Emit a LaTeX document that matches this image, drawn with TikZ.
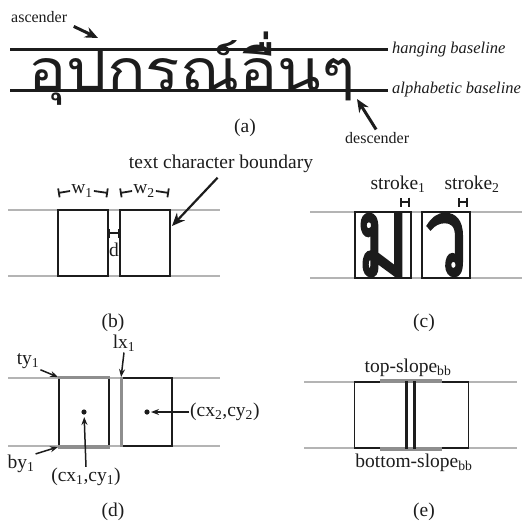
\documentclass[tikz,border=0pt]{standalone}
\usepackage{fontspec}
\setmainfont{Liberation Serif}
\newfontfamily\thaifont[Script=Thai]{Loma}
\newfontfamily\thaibold[Script=Thai,FakeBold=2.5]{Loma}
\usepackage{tikz}
\usetikzlibrary{arrows.meta, calc}
\definecolor{InkDark}{HTML}{1C1C1C}
\definecolor{GuideGray}{HTML}{B4B4B4}
\definecolor{EdgeGray}{HTML}{8E8E8E}

\begin{document}
\begin{tikzpicture}[x=1pt, y=-1pt,
        refline/.style={draw=InkDark, line width=3pt},
        guide/.style={draw=GuideGray, line width=2.5pt},
        charbox/.style={draw=InkDark, line width=1.8pt, minimum height=66pt,
                    inner sep=0pt},
        edgemark/.style={draw=EdgeGray, line width=3.2pt},
        lbl/.style={font=\fontsize{19.5}{21}\selectfont, inner sep=1pt, text=InkDark},
        small lbl/.style={font=\fontsize{16}{18}\selectfont, inner sep=1pt, text=InkDark},
        slant lbl/.style={font=\itshape\fontsize{16.5}{18}\selectfont, inner sep=1pt, text=InkDark},
        pointer/.style={-{Stealth[length=13pt, width=11pt]}, line width=3pt, InkDark},
        thin pointer/.style={-{Stealth[length=8pt, width=6pt]}, line width=1.5pt, InkDark},
        dim/.style={{Bar[width=9pt]}-{Bar[width=9pt]}, line width=1.8pt, InkDark},
        dimL/.style={{Bar[width=9pt]}-, line width=1.8pt, InkDark},
        dimR/.style={-{Bar[width=9pt]}, line width=1.8pt, InkDark}]

        \useasboundingbox (0,0) rectangle (524,527);

        % (a) Thai word between its two baselines
        \coordinate (hangL) at (10,50);
        \coordinate (hangR) at (388,50);
        \coordinate (alphL) at (10,90);
        \coordinate (alphR) at (388,90);
        \node[anchor=base west, inner sep=0pt, text=InkDark,
              font=\thaifont\fontsize{57}{57}\selectfont] (word) at (28,90)
              {\scalebox{1.12}[1]{อุปกรณ์อื่นๆ}};
        \draw[refline] (hangL) -- (hangR);
        \draw[refline] (alphL) -- (alphR);
        \node[slant lbl, anchor=west] (hangLbl) at ($(hangR)+(3,0)$) {hanging baseline};
        \node[slant lbl, anchor=west] (alphLbl) at ($(alphR)+(3,0)$) {alphabetic baseline};
        \node[small lbl, anchor=west] (ascLbl) at (10,17) {ascender};
        \node[small lbl, anchor=west] (descLbl) at (344,138) {descender};
        \coordinate (ascTip) at (98,38);
        \coordinate (descTip) at (357,99);
        \draw[pointer, shorten <=6pt] (ascLbl.south east) -- (ascTip);
        \draw[pointer, shorten <=2pt] (descLbl.north) -- (descTip);
        \node[lbl] (capA) at (245,128) {(a)};

        % (b) boxes, widths and gap
        \draw[guide] (8,210) -- (220,210);
        \draw[guide] (8,276) -- (220,276);
        \node[charbox, minimum width=50pt] (b1) at (83,243) {};
        \node[charbox, minimum width=50pt] (b2) at (145,243) {};
        \node[lbl] (w1) at (82,191) {w\textsubscript{1}};
        \node[lbl] (w2) at (144,191) {w\textsubscript{2}};
        \coordinate (w1L) at (58,193);
        \coordinate (w1R) at (108,193);
        \coordinate (w2L) at (120,193);
        \coordinate (w2R) at (169,193);
        \draw[dimL] (w1L) -- (w1.west);
        \draw[dimR] (w1.east) -- (w1R);
        \draw[dimL] (w2L) -- (w2.west);
        \draw[dimR] (w2.east) -- (w2R);
        \coordinate (gapL) at (108,233);
        \coordinate (gapR) at (120,233);
        \draw[dim] (gapL) -- (gapR);
        \node[lbl] (gap) at (114,250) {d};
        \node[lbl] (tcb) at (221,164) {text character boundary};
        \coordinate (tcbTip) at (172,226);
        \draw[pointer, line width=2.2pt, shorten <=5pt] (tcb.south) -- (tcbTip);
        \node[lbl] (capB) at (113,323) {(b)};

        % (c) strokes of two glyphs
        \draw[guide] (310,212) -- (522,212);
        \draw[guide] (310,278) -- (522,278);
        \node[charbox, minimum width=56pt] (c1) at (383,245) {};
        \node[charbox, minimum width=48pt] (c2) at (446,245) {};
        \node[inner sep=0pt, text=InkDark] (g1) at (c1) {\resizebox*{52pt}{62pt}{\thaibold ม}};
        \node[inner sep=0pt, text=InkDark] (g2) at (c2) {\resizebox*{44pt}{62pt}{\thaibold ว}};
        \node[lbl] (s1) at (398,184) {stroke\textsubscript{1}};
        \node[lbl] (s2) at (472,184) {stroke\textsubscript{2}};
        \coordinate (s1L) at (400,202);
        \coordinate (s1R) at (410,202);
        \coordinate (s2L) at (458,202);
        \coordinate (s2R) at (468,202);
        \draw[dim] (s1L) -- (s1R);
        \draw[dim] (s2L) -- (s2R);
        \node[lbl] (capC) at (424,323) {(c)};

        % (d) box edges and centres
        \draw[guide] (8,378) -- (220,378);
        \draw[guide] (8,446) -- (220,446);
        \node[charbox, minimum width=50pt, minimum height=68pt] (d1) at (84,412) {};
        \node[charbox, minimum width=50pt, minimum height=68pt] (d2) at (147,412) {};
        \draw[edgemark] (d1.north west) -- (d1.north east);
        \draw[edgemark] (d1.south west) -- (d1.south east);
        \draw[edgemark] (d2.north west) -- (d2.south west);
        \fill[InkDark] (d1.center) circle (2.6);
        \fill[InkDark] (d2.center) circle (2.6);
        \node[lbl] (ty) at (28,361) {ty\textsubscript{1}};
        \node[lbl] (lx) at (124,343) {lx\textsubscript{1}};
        \node[lbl] (by) at (21,464) {by\textsubscript{1}};
        \node[lbl] (ctr1) at (86,477) {(cx\textsubscript{1},cy\textsubscript{1})};
        \node[lbl, anchor=west] (ctr2) at (189,412) {(cx\textsubscript{2},cy\textsubscript{2})};
        \draw[thin pointer] (ty.south east) -- (d1.north west);
        \draw[thin pointer] (lx.south) -- (d2.north west);
        \draw[thin pointer] (by.north east) -- (d1.south west);
        \draw[thin pointer, shorten >=5pt] (ctr1.north) -- (d1.center);
        \draw[thin pointer, shorten >=4pt] (ctr2.west) -- (d2.center);
        \node[lbl] (capD) at (113,512) {(d)};

        % (e) top and bottom slopes
        \draw[guide] (304,382) -- (517,382);
        \draw[guide] (304,448) -- (517,448);
        \node[charbox, minimum width=51pt] (e1) at (380,415) {};
        \node[charbox, minimum width=53pt] (e2) at (442,415) {};
        \draw[edgemark, line width=3.6pt] (e1.north) -- (e2.north);
        \draw[edgemark, line width=3.6pt] (e1.south) -- (e2.south);
        \draw[InkDark, line width=2.4pt] (e1.north east) -- (e1.south east);
        \draw[InkDark, line width=2.4pt] (e2.north west) -- (e2.south west);
        \node[lbl] (topSl) at (408,368) {top-slope\textsubscript{bb}};
        \node[lbl] (botSl) at (414,463) {bottom-slope\textsubscript{bb}};
        \node[lbl] (capE) at (424,512) {(e)};
      \end{tikzpicture}
\end{document}
